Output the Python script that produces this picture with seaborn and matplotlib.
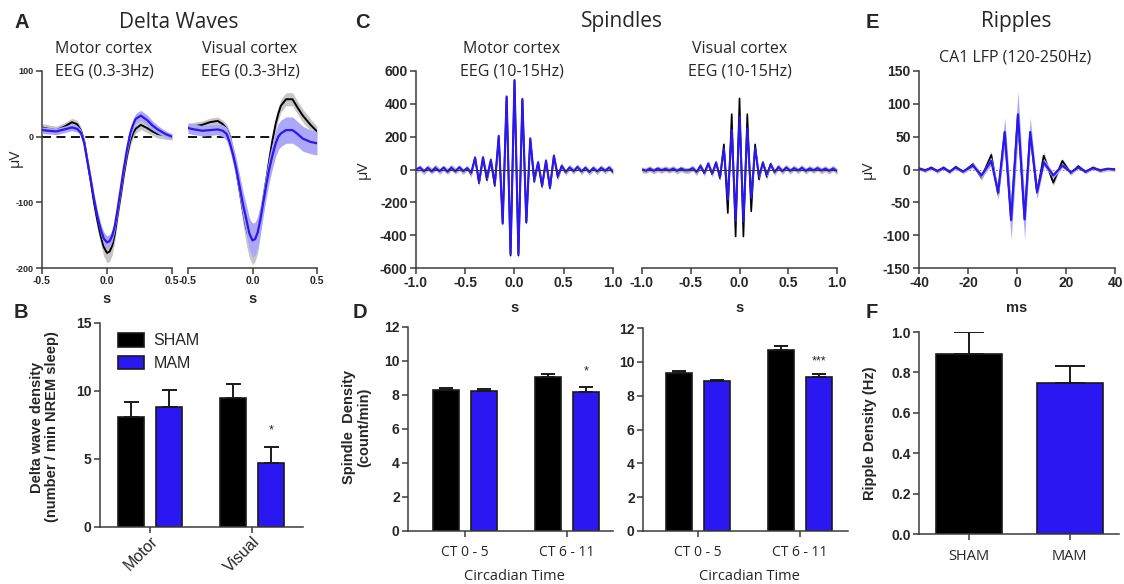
import numpy as np
import pandas as pd
import matplotlib
matplotlib.use('Agg')
import matplotlib.pyplot as plt
import seaborn as sns

W, H = 1124, 584
BLUE = '#2a17f2'
BLUE_BAND = '#aca7f6'
GRAY_BAND = '#c6c6c6'
AXC = '#3c3c3c'

# ---------------- A: delta waves (uV vs s) ----------------
delta_t = [-0.5, -0.45, -0.39, -0.33, -0.27, -0.23, -0.2, -0.175, -0.15, -0.125, -0.1, -0.075, -0.05, -0.025, 0.0,
           0.02, 0.04, 0.06, 0.08, 0.105, 0.13, 0.155, 0.18, 0.2, 0.22, 0.26, 0.31, 0.35, 0.39, 0.45, 0.5]
delta_motor_sham = [14, 12, 10, 15, 22, 19, 9, -8, -38, -68, -100, -127, -150, -168, -177,
                    -175, -166, -148, -121, -90, -57, -28, -6, 5, 12, 18, 13, 8, 4, 2, 0]
delta_motor_sham_sem = [6, 6, 6, 6, 6, 6, 6, 7, 8, 9, 10, 12, 13, 14, 15,
                        15, 14, 12, 10, 9, 8, 7, 7, 7, 7, 7, 7, 6, 6, 6, 5]
delta_motor_mam = [10, 9, 8, 11, 14, 12, 6, -10, -38, -66, -95, -120, -140, -155, -161,
                   -159, -151, -136, -112, -80, -47, -18, 6, 18, 27, 32, 25, 17, 11, 4, 0]
delta_motor_mam_sem = [5, 5, 5, 5, 5, 5, 5, 6, 7, 8, 8, 9, 9, 10, 10,
                       10, 9, 8, 8, 8, 8, 8, 8, 8, 8, 8, 8, 7, 6, 5, 4]
delta_visual_sham = [14, 16, 18, 22, 24, 19, 12, 0, -25, -52, -82, -112, -138, -156, -163,
                     -160, -150, -130, -100, -68, -35, -5, 20, 35, 47, 57, 57, 44, 32, 18, 8]
delta_visual_sham_sem = [6, 6, 6, 6, 6, 6, 7, 8, 10, 13, 16, 20, 24, 28, 32,
                         30, 27, 22, 18, 15, 12, 10, 10, 10, 10, 10, 10, 10, 10, 9, 8]
delta_visual_mam = [13, 11, 9, 10, 11, 9, 4, -10, -28, -50, -76, -102, -124, -147, -158,
                    -156, -146, -127, -104, -75, -49, -28, -10, 0, 5, 10, 10, 4, -3, -8, -10]
delta_visual_mam_sem = [8, 8, 8, 8, 8, 9, 10, 12, 14, 16, 18, 20, 22, 24, 25,
                        25, 24, 22, 21, 20, 20, 20, 20, 20, 20, 20, 20, 19, 19, 18, 18]

# ---------------- C: spindles (uV vs s), one sample every 0.04 s ----------------
spindle_t = np.round(np.linspace(-1.0, 1.0, 51), 2)
spindle_motor_sham = [-5, 8, -14, 12, -8, 14, -12, 8, -10, 14, -8, 10, -14, 10,
                      -30, 75, -85, 70, -65, 50, -100, 200, -325, 440, -525, 540, -525, 425, -325, 185,
                      -75, 40, -105, 50, -115, 80, -50, 25,
                      -20, 15, -12, 18, -14, 12, -18, 10, -14, 12, -10, 10, -12]
spindle_motor_mam = [0, 12, -10, 10, -12, 8, -10, 12, -14, 10, -12, 14, -10, 8,
                     -20, 70, -75, 75, -50, 60, -90, 205, -330, 445, -514, 545, -514, 430, -320, 190,
                     -60, 45, -95, 55, -110, 85, -40, 20,
                     -15, 12, -10, 15, -12, 10, -15, 8, -12, 10, -8, 12, -15]
spindle_visual_sham = [-3, -6, 6, -10, 4, -6, 6, -4, 6, -10, 4, -6, -6, 10,
                       -20, 25, -25, 38, -30, 45, -55, 153, -265, 337, -408, 433, -408, 337, -255, 153,
                       -60, 45, -45, 35, -20, 18, -14, 14,
                       -10, 10, -8, 12, -10, 8, -6, 10, -8, 6, -10, 8, -12]
spindle_visual_mam = [0, -8, 5, -8, 6, -5, 4, -6, 5, -8, 6, -5, -4, 8,
                      -15, 20, -20, 35, -25, 40, -45, 125, -180, 240, -310, 322, -312, 250, -170, 130,
                      -40, 40, -30, 30, -15, 15, -10, 12,
                      -8, 8, -6, 10, -8, 6, -5, 8, -6, 5, -8, 6, -10]
spindle_sham_sem = 18
spindle_mam_sem = 14

# ---------------- E: ripples (uV vs ms) ----------------
ripple_t = [-40, -37.5, -35, -32.5, -30, -27.5, -25, -22, -18, -14.5, -10.5, -7.7, -5.0, -2.4, 0.4,
            3.1, 5.4, 8.2, 10.9, 14.8, 18.5, 22, 25, 28, 31, 34, 37, 40]
ripple_sham = [2, -2, 3, -3, 3, -4, 4, -4, 8, -12, 22, -38, 57, -76, 84,
               -75, 57, -36, 21, -20, 13, -6, 5, -4, 3, -2, 1, 0]
ripple_sham_sem = [3, 3, 3, 3, 3, 3, 3, 3, 4, 5, 6, 8, 10, 12, 14,
                   12, 10, 8, 6, 5, 4, 3, 3, 3, 3, 3, 3, 3]
ripple_mam = [1, -1, 2, -2, 2, -3, 3, -3, 6, -9, 13, -35, 57, -77, 84,
              -76, 57, -34, 11, -9, 6, -4, 3, -3, 2, -1, 1, 0]
ripple_mam_sem = [1, 1, 1, 1, 1, 1, 1, 2, 3, 4, 6, 10, 22, 30, 35,
                  30, 22, 10, 6, 4, 3, 2, 2, 1, 1, 1, 1, 1]

# ---------------- B, D, F: bar charts ----------------
b_groups = ['Motor', 'Visual']
b_sham = [8.1, 9.45]
b_sham_err = [1.1, 1.05]
b_mam = [8.85, 4.7]
b_mam_err = [1.25, 1.2]

d_groups = ['CT 0 - 5', 'CT 6 - 11']
d_motor_sham = [8.3, 9.05]
d_motor_sham_err = [0.12, 0.2]
d_motor_mam = [8.22, 8.2]
d_motor_mam_err = [0.15, 0.3]
d_visual_sham = [9.35, 10.7]
d_visual_sham_err = [0.13, 0.22]
d_visual_mam = [8.85, 9.1]
d_visual_mam_err = [0.05, 0.2]

f_groups = ['SHAM', 'MAM']
f_density = [0.89, 0.75]
f_err = [0.11, 0.08]

sns.set_style('ticks')
plt.rcParams['font.family'] = ['Liberation Sans', 'DejaVu Sans']
plt.rcParams['axes.unicode_minus'] = False
SOFT = ['Open Sans', 'DejaVu Sans']

fig = plt.figure(figsize=(W / 100, H / 100), dpi=100)


def add_ax(x0, y0, x1, y1):
    return fig.add_axes([x0 / W, 1 - y1 / H, (x1 - x0) / W, (y1 - y0) / H])


def clean(ax, left=True):
    sns.despine(ax=ax, left=not left)
    for s in ['left', 'bottom']:
        ax.spines[s].set_linewidth(1.1)
        ax.spines[s].set_color(AXC)
    ax.tick_params(direction='out', length=4, width=1.1, color=AXC, pad=2)
    if not left:
        ax.tick_params(axis='y', left=False, labelleft=False)
    ax.set_xlabel('')
    ax.set_ylabel('')


def draw_wave(ax, t, sham, sham_sem, mam, mam_sem, lw_k=1.4, lw_b=1.6):
    t = np.asarray(t, dtype=float)
    sham = np.asarray(sham, dtype=float)
    mam = np.asarray(mam, dtype=float)
    sham_sem = np.asarray(sham_sem, dtype=float)
    mam_sem = np.asarray(mam_sem, dtype=float)
    ax.fill_between(t, sham - sham_sem, sham + sham_sem, color=GRAY_BAND, lw=0, zorder=1)
    sns.lineplot(x=t, y=sham, color='black', linewidth=lw_k, sort=False, errorbar=None, ax=ax, zorder=2)
    ax.fill_between(t, mam - mam_sem, mam + mam_sem, color=BLUE_BAND, lw=0, zorder=3)
    sns.lineplot(x=t, y=mam, color=BLUE, linewidth=lw_b, sort=False, errorbar=None, ax=ax, zorder=4)


def bold_ticks(ax, axis, ticks, labels, size):
    if axis == 'x':
        ax.set_xticks(ticks, labels=labels, fontsize=size, fontweight='bold')
    else:
        ax.set_yticks(ticks, labels=labels, fontsize=size, fontweight='bold')


# ---- A ----
a_axes = [add_ax(42, 71, 172, 268), add_ax(188, 71, 317, 268)]
a_data = [(delta_motor_sham, delta_motor_sham_sem, delta_motor_mam, delta_motor_mam_sem),
          (delta_visual_sham, delta_visual_sham_sem, delta_visual_mam, delta_visual_mam_sem)]
for i, (ax, d) in enumerate(zip(a_axes, a_data)):
    ax.axhline(0, color='black', lw=1.3, ls=(0, (5, 3)), zorder=0.5)
    draw_wave(ax, delta_t, *d)
    ax.set_xlim(-0.5, 0.5)
    ax.set_ylim(-200, 100)
    clean(ax, left=(i == 0))
    xt = [-0.5, 0.0, 0.5]
    bold_ticks(ax, 'x', xt, [f'{v:.1f}' for v in xt], 7.5)
    if i == 0:
        yt = [-200, -100, 0, 100]
        bold_ticks(ax, 'y', yt, [str(v) for v in yt], 6.5)
        ax.set_ylabel('μV', fontsize=11, family=SOFT)
        ax.yaxis.set_label_coords(-0.15, 0.56)
    ax.set_xlabel('s', fontsize=10.5, fontweight='bold')
    ax.xaxis.set_label_coords(0.5, -0.12)

# ---- C ----
c_axes = [add_ax(416, 71, 613, 268), add_ax(642, 71, 837, 268)]
c_data = [(spindle_motor_sham, spindle_sham_sem, spindle_motor_mam, spindle_mam_sem),
          (spindle_visual_sham, spindle_sham_sem, spindle_visual_mam, spindle_mam_sem)]
for i, (ax, d) in enumerate(zip(c_axes, c_data)):
    draw_wave(ax, spindle_t, *d, lw_k=1.2, lw_b=1.5)
    ax.axhline(0, color='#333333', lw=0.7, zorder=5)
    ax.set_xlim(-1.0, 1.0)
    ax.set_ylim(-600, 600)
    clean(ax, left=(i == 0))
    xt = [-1.0, -0.5, 0.0, 0.5, 1.0]
    bold_ticks(ax, 'x', xt, [f'{v:.1f}' for v in xt], 10)
    if i == 0:
        yt = [-600, -400, -200, 0, 200, 400, 600]
        bold_ticks(ax, 'y', yt, [str(v) for v in yt], 10)
        ax.set_ylabel('μV', fontsize=11, family=SOFT)
        ax.yaxis.set_label_coords(-0.23, 0.5)
    ax.set_xlabel('s', fontsize=10.5, fontweight='bold')
    ax.xaxis.set_label_coords(0.5, -0.165)

# ---- E ----
ax_e = add_ax(919, 71, 1115, 268)
draw_wave(ax_e, ripple_t, ripple_sham, ripple_sham_sem, ripple_mam, ripple_mam_sem, lw_k=1.3, lw_b=1.6)
ax_e.axhline(0, color='#888888', lw=0.8, ls=(0, (1.5, 1.5)), zorder=0.5)
ax_e.set_xlim(-40, 40)
ax_e.set_ylim(-150, 150)
clean(ax_e)
xt = [-40, -20, 0, 20, 40]
bold_ticks(ax_e, 'x', xt, [str(v) for v in xt], 10)
yt = [-150, -100, -50, 0, 50, 100, 150]
bold_ticks(ax_e, 'y', yt, [str(v) for v in yt], 10)
ax_e.set_ylabel('μV', fontsize=11, family=SOFT)
ax_e.yaxis.set_label_coords(-0.22, 0.5)
ax_e.set_xlabel('ms', fontsize=10.5, fontweight='bold')
ax_e.xaxis.set_label_coords(0.5, -0.165)


# ---- bar panels ----
def add_errbars(ax, bars, errs, capsize):
    for bar, e in zip(bars, errs):
        ax.errorbar(bar.get_x() + bar.get_width() / 2, bar.get_height(), yerr=[[0], [e]],
                    fmt='none', ecolor='#1a1a1a', elinewidth=1.4, capsize=capsize,
                    capthick=1.4, zorder=1)


def grouped_bars(ax, groups, sham, sham_err, mam, mam_err, capsize, legend=False):
    df = pd.DataFrame({'group': groups * 2,
                       'cond': ['SHAM'] * len(groups) + ['MAM'] * len(groups),
                       'value': sham + mam})
    sns.barplot(data=df, x='group', y='value', hue='cond', hue_order=['SHAM', 'MAM'],
                palette={'SHAM': 'black', 'MAM': BLUE}, saturation=1, width=0.75, gap=0.32,
                edgecolor='#1a1a1a', linewidth=1.2, errorbar=None, legend=legend, ax=ax)
    for cont, errs in zip(ax.containers, [sham_err, mam_err]):
        add_errbars(ax, [b for b in cont if b is not None], errs, capsize)


ax_b = add_ax(100, 323, 303, 527)
grouped_bars(ax_b, b_groups, b_sham, b_sham_err, b_mam, b_mam_err, 5.4, legend=True)
ax_b.set_xlim(-0.49, 1.5)
ax_b.set_ylim(0, 15)
clean(ax_b)
bold_ticks(ax_b, 'y', [0, 5, 10, 15], ['0', '5', '10', '15'], 10)
ax_b.set_xticks(range(len(b_groups)), labels=b_groups, fontsize=11.5, rotation=45,
                ha='right', rotation_mode='anchor')
ax_b.tick_params(axis='x', pad=1)
ax_b.set_ylabel('Delta wave density\n(number / min NREM sleep)', fontsize=10.5, fontweight='bold',
                linespacing=1.1)
ax_b.yaxis.set_label_coords(-0.2, 0.49)
ax_b.legend(loc='upper left', bbox_to_anchor=(0.02, 1.02), frameon=False, fontsize=11.5,
            handlelength=1.6, handleheight=0.9, labelspacing=0.45, handletextpad=0.6)
ax_b.text(1.19, 7.1, '*', ha='center', va='center', fontsize=9)

d_axes = [add_ax(408, 327, 613, 531), add_ax(643, 328, 848, 531)]
d_data = [(d_motor_sham, d_motor_sham_err, d_motor_mam, d_motor_mam_err),
          (d_visual_sham, d_visual_sham_err, d_visual_mam, d_visual_mam_err)]
d_xlims = [(-0.56, 1.45), (-0.54, 1.47)]
d_stars = [('*', 9.4), ('***', 10.05)]
for ax, d, xl, (star, sy) in zip(d_axes, d_data, d_xlims, d_stars):
    grouped_bars(ax, d_groups, *d, 4.8)
    ax.set_xlim(*xl)
    ax.set_ylim(0, 12)
    clean(ax)
    yt = [0, 2, 4, 6, 8, 10, 12]
    bold_ticks(ax, 'y', yt, [str(v) for v in yt], 10)
    ax.set_xticks(range(len(d_groups)), labels=d_groups, fontsize=10, family=SOFT)
    ax.tick_params(axis='x', pad=6)
    ax.set_xlabel('Circadian Time', fontsize=10.5, family=SOFT)
    ax.xaxis.set_label_coords(0.52, -0.185)
    ax.text(1.19, sy, star, ha='center', va='center', fontsize=9)
d_axes[0].set_ylabel('Spindle  Density\n(count/min)', fontsize=10.5, fontweight='bold', linespacing=1.1)
d_axes[0].yaxis.set_label_coords(-0.18, 0.51)

ax_f = add_ax(919, 332, 1119, 534)
df_f = pd.DataFrame({'group': f_groups, 'value': f_density})
sns.barplot(data=df_f, x='group', y='value', hue='group', palette={'SHAM': 'black', 'MAM': BLUE},
            saturation=1, width=0.66, edgecolor='#1a1a1a', linewidth=1.2, errorbar=None,
            legend=False, ax=ax_f)
f_bars = sorted(ax_f.patches, key=lambda p: p.get_x())
add_errbars(ax_f, f_bars, f_err, 11)
ax_f.set_xlim(-0.5, 1.49)
ax_f.set_ylim(0, 1.0)
clean(ax_f)
yt = [0.0, 0.2, 0.4, 0.6, 0.8, 1.0]
bold_ticks(ax_f, 'y', yt, [f'{v:.1f}' for v in yt], 10)
ax_f.set_xticks(range(len(f_groups)), labels=f_groups, fontsize=10.5, family=SOFT)
ax_f.tick_params(axis='x', pad=7)
ax_f.set_ylabel('Ripple Density (Hz)', fontsize=10.5, fontweight='bold')
ax_f.yaxis.set_label_coords(-0.21, 0.5)


# ---- titles and panel letters ----
def ftext(x, y, s, **kw):
    fig.text(x / W, 1 - y / H, s, ha='center', va='center', **kw)


for letter, x, y in [('A', 22, 22), ('B', 21, 312), ('C', 362, 22), ('D', 360, 313),
                     ('E', 872, 22), ('F', 872, 312)]:
    ftext(x, y, letter, fontsize=14.5, fontweight='bold')

ftext(179, 22, 'Delta Waves', fontsize=15, family=SOFT)
ftext(622, 22, 'Spindles', fontsize=15, family=SOFT)
ftext(1016, 22, 'Ripples', fontsize=15, family=SOFT)
for x, l1, l2 in [(104, 'Motor cortex', 'EEG (0.3-3Hz)'), (250, 'Visual cortex', 'EEG (0.3-3Hz)'),
                  (512, 'Motor cortex', 'EEG (10-15Hz)'), (740, 'Visual cortex', 'EEG (10-15Hz)')]:
    ftext(x, 49, l1, fontsize=11.5, family=SOFT)
    ftext(x, 71, l2, fontsize=11.5, family=SOFT)
ftext(1015, 58, 'CA1 LFP (120-250Hz)', fontsize=11.5, family=SOFT)

fig.savefig('out.png', dpi=100)
